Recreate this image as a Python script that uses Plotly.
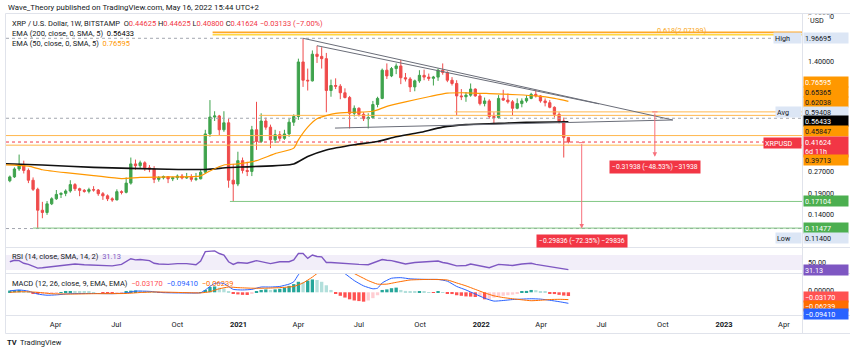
import math
import pandas as pd
import plotly.graph_objects as go

W, H = 850, 351
FONT = "Roboto, 'Liberation Sans', Arial, sans-serif"
GREEN = "#3FA34D"
RED = "#EF4B4B"
TXT = "#131722"

# ---------------- data ----------------
week_start = "2020-01-27"
opens = [.233, .247, .278, .295, .272, .235, .205, .150, .145, .165, .178, .190, .193, .200, .220, .207, .202, .199, .204, .203,
         .192, .186, .178, .175, .198, .196, .225, .300, .292, .305, .283, .278, .238, .244, .248, .240, .244, .250, .243, .245,
         .238, .240, .265, .470, .605, .615, .500, .555, .235, .222, .315, .272, .268, .500, .420, .570, .520, .430, .465, .440,
         .470, .560, .610, 1.380, 1.050, 1.040, 1.550, 1.500, 1.450, .900, .970, .960, .870, .810, .640, .690, .630, .590, .600, .730,
         .800, 1.220, 1.120, 1.250, 1.300, 1.090, 1.070, .950, 1.040, 1.130, 1.100, 1.080, 1.100, 1.220, 1.180, 1.050, 1.000, .830, .820, .840,
         .920, .830, .740, .770, .610, .600, .800, .780, .760, .690, .740, .770, .800, .850, .830, .770, .750, .700, .630, .570,
         .44625]
highs = [.252, .285, .345, .315, .280, .245, .210, .170, .172, .182, .203, .196, .205, .235, .225, .210, .206, .210, .215, .206,
         .197, .190, .182, .205, .202, .245, .330, .320, .315, .312, .295, .290, .250, .252, .250, .248, .256, .258, .262, .257,
         .262, .275, .500, .780, .660, .625, .660, .590, .300, .360, .330, .310, .530, .760, .640, .600, .540, .500, .490, .500,
         .590, .630, 1.450, 1.967, 1.250, 1.640, 1.760, 1.720, 1.580, 1.060, 1.080, .990, .930, .830, .720, .700, .650, .640, .770, .820,
         1.250, 1.350, 1.280, 1.350, 1.420, 1.170, 1.100, 1.060, 1.220, 1.230, 1.160, 1.120, 1.250, 1.350, 1.200, 1.100, 1.050, .920, .880, 1.000,
         .930, .860, .810, .790, .650, .840, .910, .860, .780, .800, .800, .840, .870, .910, .840, .800, .780, .710, .650, .600,
         .44625]
lows = [.228, .243, .270, .260, .225, .200, .114, .133, .140, .162, .175, .180, .185, .195, .200, .185, .195, .193, .198, .186,
        .175, .172, .170, .174, .190, .193, .220, .275, .278, .270, .265, .225, .230, .238, .225, .232, .236, .238, .240, .230,
        .232, .238, .258, .450, .570, .460, .485, .210, .171, .215, .260, .250, .250, .370, .410, .500, .380, .410, .420, .430,
        .450, .530, .580, .950, .900, 1.030, 1.360, 1.250, .650, .820, .920, .790, .800, .510, .610, .610, .570, .510, .590, .700,
        .790, 1.070, 1.100, 1.150, .990, 1.030, .880, .890, 1.010, 1.050, 1.040, .970, 1.040, 1.140, 1.020, .970, .620, .780, .760, .820,
        .820, .720, .710, .590, .550, .590, .770, .740, .620, .680, .700, .750, .790, .810, .750, .710, .690, .600, .550, .330,
        .408]
closes = [.247, .278, .295, .272, .235, .205, .150, .145, .165, .178, .190, .193, .200, .220, .207, .202, .199, .204, .203, .192,
          .186, .178, .175, .198, .196, .225, .300, .292, .305, .283, .278, .238, .244, .248, .240, .244, .250, .243, .245, .238,
          .240, .265, .470, .605, .615, .500, .555, .235, .222, .315, .272, .268, .500, .420, .570, .520, .430, .465, .440, .470,
          .560, .610, 1.380, 1.050, 1.040, 1.550, 1.500, 1.450, .900, .970, .960, .870, .810, .640, .690, .630, .590, .600, .730, .800,
          1.220, 1.120, 1.250, 1.300, 1.090, 1.070, .950, 1.040, 1.130, 1.100, 1.080, 1.100, 1.220, 1.180, 1.050, 1.000, .830, .820, .840, .920,
          .830, .740, .770, .610, .600, .800, .780, .760, .690, .740, .770, .800, .850, .830, .770, .750, .700, .630, .570, .44625,
          .41624]

ema200_dates = ["2020-01-20", "2020-03-16", "2020-06-01", "2020-09-21", "2020-11-16", "2020-12-21", "2021-01-25",
                "2021-03-29", "2021-04-19", "2021-05-17", "2021-06-28", "2021-08-02", "2021-08-30", "2021-10-04",
                "2021-11-08", "2021-12-13", "2022-01-31", "2022-03-14", "2022-05-16"]
ema200_vals = [0.301, 0.295, 0.285, 0.277, 0.276, 0.284, 0.288, 0.300, 0.335, 0.370, 0.400, 0.420, 0.450, 0.480,
               0.520, 0.540, 0.550, 0.560, 0.56433]

ema50_dates = ["2020-01-20", "2020-02-24", "2020-03-16", "2020-04-20", "2020-06-01", "2020-07-13", "2020-08-10",
               "2020-09-21", "2020-11-09", "2020-11-23", "2020-12-14", "2021-01-04", "2021-02-01", "2021-03-01",
               "2021-03-29", "2021-04-05", "2021-04-19", "2021-05-03", "2021-05-31", "2021-06-28", "2021-07-26",
               "2021-08-16", "2021-09-13", "2021-10-18", "2021-11-15", "2021-12-13", "2022-01-17", "2022-02-28",
               "2022-03-28", "2022-04-25", "2022-05-16"]
ema50_vals = [0.296, 0.290, 0.275, 0.263, 0.252, 0.241, 0.245, 0.247, 0.251, 0.270, 0.295, 0.300, 0.315, 0.350,
              0.380, 0.430, 0.520, 0.590, 0.640, 0.650, 0.660, 0.710, 0.760, 0.820, 0.865, 0.870, 0.860, 0.845,
              0.830, 0.800, 0.76595]

rsi_idx = [0, 1, 2, 3, 4, 5, 6, 7, 9, 10, 12, 14, 16, 18, 20, 22, 24, 25, 26, 27, 28, 30, 31, 32, 34, 36, 38, 40, 41, 42,
           43, 44, 45, 46, 47, 48, 49, 51, 53, 55, 56, 58, 60, 61, 62, 63, 64, 65, 66, 67, 68, 69, 70, 72, 74, 75, 77, 78,
           80, 81, 82, 83, 84, 85, 87, 90, 92, 93, 94, 96, 98, 99, 101, 103, 105, 106, 108, 110, 111, 112, 113, 115, 117,
           118, 119, 120]
rsi_vals = [52, 56, 55, 48, 45, 40, 35, 36, 39, 42, 43, 46, 44, 43, 42, 41, 45, 52, 60, 57, 58, 55, 48, 46, 45, 47, 47, 44, 54, 79,
            80, 81, 74, 70, 52, 45, 50, 48, 55, 49, 47, 52, 52, 57, 74, 74, 61, 70, 66, 65, 50, 50, 49, 46, 45, 45, 44, 48,
            58, 56, 55, 52, 48, 46, 50, 52, 54, 50, 48, 41, 42, 46, 41, 36, 45, 44, 42, 46, 48, 48, 45, 41, 35,
            33, 33, 31.13]

macd_hist = [0.015, 0.018, 0.020, 0.016, 0.006, -0.008, -0.015, -0.014, -0.011, -0.008, -0.004, 0.002, 0.008, 0.010, 0.009,
             0.007, 0.005, 0.003, 0.002, 0.000, -0.002, -0.004, -0.005, -0.003, -0.001, 0.004, 0.014, 0.016, 0.015, 0.012,
             0.008, 0.002, -0.002, -0.004, -0.005, -0.005, -0.004, -0.003, -0.002, -0.002, -0.001, 0.001, 0.020, 0.045, 0.050,
             0.040, 0.032, 0.010, -0.010, -0.018, -0.022, -0.023, -0.012, 0.005, 0.020, 0.025, 0.020, 0.025, 0.030, 0.040,
             0.055, 0.070, 0.090, 0.085, 0.100, 0.110, 0.105, 0.090, 0.060, 0.020, -0.010, -0.030, -0.045, -0.060, -0.070,
             -0.075, -0.080, -0.070, -0.050, -0.025, 0.020, 0.025, 0.035, 0.040, 0.020, 0.012, 0.005, 0.003, 0.004, 0.003,
             0.001, -0.002, 0.003, 0.002, -0.008, -0.015, -0.025, -0.030, -0.035, -0.037, -0.040, -0.037, -0.060, -0.060, -0.045,
             -0.035, -0.030, -0.025, -0.020, -0.012, 0.006, 0.012, 0.020, 0.018, 0.008, 0.004, -0.008, -0.015, -0.022, -0.028,
             -0.0317]

macd_idx = [0, 2, 4, 6, 8, 10, 13, 18, 22, 25, 27, 30, 33, 38, 41, 42, 43, 44, 45, 46, 47, 48, 50, 52, 54, 56, 58, 60, 61,
            62, 63, 64, 65, 66, 67, 68, 70, 72, 74, 76, 78, 79, 80, 82, 84, 86, 88, 90, 92, 94, 96, 98, 100, 102, 104, 106,
            108, 110, 112, 114, 116, 118, 120]
macd_line = [0.012, 0.020, 0.010, -0.015, -0.025, -0.022, -0.012, -0.010, -0.012, -0.006, 0.010, 0.008, -0.003, -0.006,
             -0.004, 0.020, 0.050, 0.075, 0.080, 0.075, 0.050, 0.025, 0.020, 0.025, 0.045, 0.045, 0.050, 0.070, 0.090,
             0.150, 0.190, 0.220, 0.260, 0.280, 0.290, 0.260, 0.220, 0.160, 0.100, 0.055, 0.030, 0.035, 0.080, 0.120,
             0.125, 0.115, 0.112, 0.110, 0.110, 0.095, 0.050, 0.020, -0.015, -0.050, -0.075, -0.070, -0.062, -0.058,
             -0.055, -0.058, -0.068, -0.080, -0.0941]
sig_idx = [0, 3, 6, 9, 13, 18, 25, 28, 31, 35, 41, 43, 45, 47, 49, 52, 55, 58, 61, 63, 65, 67, 69, 71, 73, 75, 77, 79, 81,
           83, 86, 90, 94, 96, 98, 100, 102, 104, 106, 108, 110, 112, 114, 116, 118, 120]
sig_line = [0.000, 0.005, 0.000, -0.012, -0.015, -0.012, -0.010, -0.002, 0.003, 0.000, -0.005, 0.005, 0.030, 0.045, 0.040,
            0.035, 0.035, 0.040, 0.050, 0.080, 0.130, 0.190, 0.220, 0.210, 0.180, 0.140, 0.100, 0.070, 0.070,
            0.085, 0.105, 0.110, 0.105, 0.080, 0.055, 0.025, -0.005, -0.030, -0.045, -0.055, -0.064, -0.072, -0.068,
            -0.062, -0.060, -0.06239]

# drawings (date, price)
fib_vals = [2.15, 2.07199]
fib_start = "2020-11-27"
level_vals = [0.65365, 0.62038, 0.45847, 0.39713]
level_starts = ["2021-11-26", "2021-02-05", "2020-01-21", "2020-01-21"]
dotted_vals = [1.96695, 0.59408, 0.11400]
support_vals = [0.17104, 0.11477]
support_starts = ["2020-12-23", "2020-03-02"]
last_price = 0.41624
tri_a = (["2021-04-12", "2022-10-20"], [1.96695, 0.579])
tri_b = (["2021-05-03", "2022-07-01"], [1.76, 0.737])
tri_low = (["2021-05-30", "2022-10-20"], [0.513, 0.579])
meas1 = ("2022-09-23", 0.65365, 0.33427, "−0.31938 (−48.53%) −31938")
meas2 = ("2022-06-05", 0.41238, 0.11402, "−0.29836 (−72.35%) −29836")

tick_dates = ["2020-04-05", "2020-07-05", "2020-10-05", "2021-01-05", "2021-04-05", "2021-07-05", "2021-10-05",
              "2022-01-05", "2022-04-05", "2022-07-05", "2022-10-05", "2023-01-05", "2023-04-05"]
tick_text = ["Apr", "Jul", "Oct", "<b>2021</b>", "Apr", "Jul", "Oct", "<b>2022</b>", "Apr", "Jul", "Oct", "<b>2023</b>", "Apr"]

X0, X1 = "2020-01-21 07:00", "2023-05-02 07:00"

# ---------------- figure ----------------
dates = pd.date_range(week_start, periods=len(closes), freq="7D")
fig = go.Figure()


def hline(x0, x1, v, color, width=1, dash="solid"):
    fig.add_trace(go.Scatter(x=[x0, x1], y=[v, v], mode="lines", line=dict(color=color, width=width, dash=dash),
                             xaxis="x", yaxis="y", hoverinfo="skip"))


fib_cols = ["#FFA726", "#FFD740"]
for v, c in zip(fib_vals, fib_cols):
    hline(fib_start, X1, v, c, 1.6)
for v, s in zip(level_vals, level_starts):
    hline(s, X1, v, "#FFB74D", 1)
for v in dotted_vals:
    hline(X0, X1, v, "#A3A6AF", 1, "dot")
for v, s in zip(support_vals, support_starts):
    hline(s, X1, v, "#81C784", 1)
hline(X0, X1, last_price, "#F23645", 1, "dot")

fig.add_trace(go.Scatter(x=ema200_dates, y=ema200_vals, mode="lines", line=dict(color="#111111", width=1.6, shape="spline", smoothing=0.6),
                         xaxis="x", yaxis="y", hoverinfo="skip"))
fig.add_trace(go.Scatter(x=ema50_dates, y=ema50_vals, mode="lines", line=dict(color="#FF9800", width=1.2, shape="spline", smoothing=0.6),
                         xaxis="x", yaxis="y", hoverinfo="skip"))

fig.add_trace(go.Candlestick(x=dates, open=opens, high=highs, low=lows, close=closes, xaxis="x", yaxis="y",
                             increasing=dict(line=dict(color=GREEN, width=1), fillcolor=GREEN),
                             decreasing=dict(line=dict(color=RED, width=1), fillcolor=RED),
                             whiskerwidth=0))

for tx, ty in (tri_a, tri_b, tri_low):
    fig.add_trace(go.Scatter(x=tx, y=ty, mode="lines", line=dict(color="#6A6D78", width=1),
                             xaxis="x", yaxis="y", hoverinfo="skip"))

# RSI
fig.add_trace(go.Scatter(x=[dates[i] for i in rsi_idx], y=rsi_vals, mode="lines", line=dict(color="#7E57C2", width=1.4),
                         xaxis="x2", yaxis="y2", hoverinfo="skip"))

# MACD
cols = []
for i, h in enumerate(macd_hist):
    p = macd_hist[i - 1] if i > 0 else 0
    if h >= 0:
        cols.append("#26A69A" if h >= p else "#B2DFDB")
    else:
        cols.append("#FF5252" if h < p else "#FFCDD2")
fig.add_trace(go.Bar(x=dates, y=macd_hist, marker=dict(color=cols, line=dict(width=0)), width=5.0 * 86400000,
                     xaxis="x3", yaxis="y3", hoverinfo="skip"))
fig.add_trace(go.Scatter(x=[dates[i] for i in macd_idx], y=macd_line, mode="lines", line=dict(color="#2962FF", width=1, shape="spline", smoothing=0.5),
                         xaxis="x3", yaxis="y3", hoverinfo="skip"))
fig.add_trace(go.Scatter(x=[dates[i] for i in sig_idx], y=sig_line, mode="lines", line=dict(color="#FF6D00", width=1, shape="spline", smoothing=0.5),
                         xaxis="x3", yaxis="y3", hoverinfo="skip"))

# ---------------- layout ----------------
def py(p):
    return 1 - p / H


XD = [6 / W, 802 / W]
ax_common = dict(showgrid=False, zeroline=False, showline=False, fixedrange=True)
fig.update_layout(
    width=W, height=H, margin=dict(l=0, r=0, t=0, b=0), paper_bgcolor="white", plot_bgcolor="white",
    showlegend=False, hovermode=False, font=dict(family=FONT, size=7.5, color=TXT),
    xaxis=dict(domain=XD, range=[X0, X1], type="date", anchor="y", showticklabels=False,
               rangeslider=dict(visible=False), **ax_common),
    xaxis2=dict(domain=XD, range=[X0, X1], type="date", anchor="y2", matches="x", showticklabels=False, **ax_common),
    xaxis3=dict(domain=XD, range=[X0, X1], type="date", anchor="y3", matches="x", tickvals=tick_dates, ticktext=tick_text,
                ticks="", ticklabelstandoff=3, tickfont=dict(size=7.5, color=TXT, family=FONT), **ax_common),
    yaxis=dict(domain=[py(247), py(14)], type="log", range=[-1.0631, 0.4517], anchor="x", showticklabels=False, **ax_common),
    yaxis2=dict(domain=[py(273), py(248)], range=[22, 88.7], anchor="x2", showticklabels=False, **ax_common),
    yaxis3=dict(domain=[py(315), py(274)], range=[-0.194, 0.1564], anchor="x3", showticklabels=False, **ax_common),
)

shapes = []
shapes.append(dict(type="rect", xref="paper", yref="y2", x0=XD[0], x1=XD[1], y0=30, y1=70,
                   fillcolor="rgba(126,87,194,0.10)", line=dict(width=0), layer="below"))
for yy in (13.5, 247.5, 273.5, 315.5, 333.5):
    shapes.append(dict(type="line", xref="paper", yref="paper", x0=5.5 / W, x1=1, y0=py(yy), y1=py(yy),
                       line=dict(color="#E0E3EB", width=1)))
for xx in (5.5, 802.5):
    shapes.append(dict(type="line", xref="paper", yref="paper", x0=xx / W, x1=xx / W, y0=py(333.5), y1=py(13.5),
                       line=dict(color="#E0E3EB", width=1)))
fig.update_layout(shapes=shapes)

ann = []


def text(t, x, y, size=7.5, color=TXT, xanchor="left", **kw):
    ann.append(dict(xref="paper", yref="paper", x=x / W, y=py(y), text=t, showarrow=False, xanchor=xanchor,
                    yanchor="middle", font=dict(size=size, color=color, family=FONT), **kw))


def box(t, y, bg, fc, x=803, w=42, h=8):
    ann.append(dict(xref="paper", yref="paper", x=x / W, y=py(y), text=t, showarrow=False, xanchor="left",
                    yanchor="middle", font=dict(size=7.2, color=fc, family=FONT), bgcolor=bg, width=w, height=h,
                    align="left", borderpad=1))


R = "#F23645"
text("Wave_Theory published on TradingView.com, May 16, 2022 15:44 UTC+2", 6, 7.5, size=7.8)
text("XRP / U.S. Dollar, 1W, BITSTAMP  O<span style='color:%s'>0.44625</span> H<span style='color:%s'>0.44625</span> "
     "L<span style='color:%s'>0.40800</span> C<span style='color:%s'>0.41624</span> "
     "<span style='color:%s'>−0.03133 (−7.00%%)</span>" % (R, R, R, R, R), 10, 23.5)
text("EMA (200, close, 0, SMA, 5)  <span style='color:#000000'>0.56433</span>", 10, 33.5)
text("EMA (50, close, 0, SMA, 5)  <span style='color:#FF9800'>0.76595</span>", 10, 43.5)
text("RSI (14, close, SMA, 14, 2)  <span style='color:#7E57C2'>31.13</span>", 10, 256)
text("MACD (12, 26, close, 9, EMA, EMA)  <span style='color:#FF5252'>−0.03170</span>  "
     "<span style='color:#2962FF'>−0.09410</span>  <span style='color:#FF6D00'>−0.06239</span>", 10, 283)
text("0.618(2.07199)", 708, 30, size=7.2, color="#F9A825", xanchor="right")
text("<b>TV</b>", 5, 342, size=7.5)
text("TradingView", 18, 342, size=7.5)

for t, y in (("2.60000", 16.5), ("1.40000", 61), ("0.27000", 171), ("0.19000", 193.5), ("0.14000", 214),
             ("50.00", 262.5), ("0.00000", 290.5)):
    text(t, 806, y, size=7.2)

LB = "#DCE6F5"
box("USD", 20, "white", TXT, x=808, w=18)
box("1.96695", 38, LB, TXT)
box("High", 38, LB, TXT, x=773, w=25)
box("0.76595", 82, "#FF9800", "white")
box("0.65365", 92, "#FF9800", TXT)
box("0.62038", 102, "#FF9800", TXT)
box("0.59408", 112, LB, TXT)
box("Avg", 112, LB, TXT, x=775, w=23)
box("0.56433", 121, "#000000", "white")
box("0.45847", 131, "#FF9800", TXT)
box("0.41624<br>6d 11h", 147, R, "white", h=18)
box("XRPUSD", 143, R, "white", x=763, w=35)
box("0.39713", 160, "#FF9800", TXT)
box("0.17104", 201, "#4CAF50", "white")
box("0.11477", 228, "#4CAF50", "white")
box("0.11400", 238, LB, TXT)
box("Low", 238, LB, TXT, x=775, w=23)
box("31.13", 270, "#7E57C2", "white")
box("−0.03170", 297, "#FF5252", "white")
box("−0.06239", 306, "#FF6D00", "white")
box("−0.09410", 314, "#2962FF", "white")

for d, top, bot, lab in (meas1, meas2):
    ann.append(dict(xref="x", yref="y", x=d, y=math.log10(bot), axref="x", ayref="y", ax=d, ay=math.log10(top),
                    showarrow=True, arrowhead=2, arrowsize=0.9, arrowwidth=1, arrowcolor="#F7707C", text=""))
dx = pd.Timedelta(days=4)
for d, top, bot, lab in (meas1, meas2):
    dd = pd.Timestamp(d)
    fig.add_trace(go.Scatter(x=[dd - dx, dd + dx], y=[top, top], mode="lines", line=dict(color="#F7707C", width=1),
                             xaxis="x", yaxis="y", hoverinfo="skip"))
ann.append(dict(xref="x", yref="paper", x=meas1[0], y=py(167), text=meas1[3], showarrow=False, xanchor="center",
                yanchor="middle", font=dict(size=6.8, color="white", family=FONT), bgcolor="#F23645", borderpad=2))
ann.append(dict(xref="x", yref="paper", x=meas2[0], y=py(240.5), text=meas2[3], showarrow=False, xanchor="center",
                yanchor="middle", font=dict(size=6.8, color="white", family=FONT), bgcolor="#F23645", borderpad=2))

fig.update_layout(annotations=ann)
fig.write_html("out.html", config={"displayModeBar": False})
